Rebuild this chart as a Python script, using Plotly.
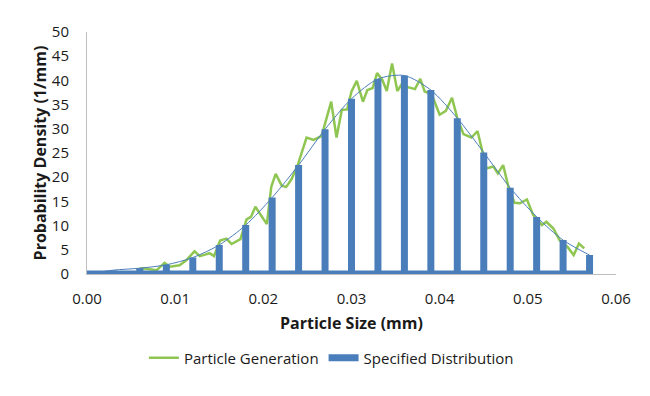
import plotly.graph_objects as go

# Specified distribution (values at 0.003 mm steps)
spec_x = [0.000, 0.003, 0.006, 0.009, 0.012, 0.015, 0.018, 0.021, 0.024, 0.027,
          0.030, 0.033, 0.036, 0.039, 0.042, 0.045, 0.048, 0.051, 0.054, 0.057]
spec_y = [0.0, 0.8, 1.2, 1.9, 3.4, 6.0, 10.1, 15.8, 22.5, 29.9,
          36.2, 40.3, 41.0, 38.0, 32.2, 25.1, 17.8, 11.8, 7.0, 3.9]

# Particle generation (noisy sample)
gen_x = [0.0056, 0.0062, 0.0071, 0.0079, 0.0088, 0.0094, 0.0105, 0.0113, 0.0122, 0.0128,
         0.0134, 0.0139, 0.0144, 0.0151, 0.0158, 0.0164, 0.0174, 0.0181, 0.0186, 0.0191,
         0.0196, 0.0204, 0.0209, 0.0214, 0.0221, 0.0226, 0.0232, 0.0239, 0.0249, 0.0257,
         0.0266, 0.0277, 0.0283, 0.0289, 0.0295, 0.0300, 0.0306, 0.0313, 0.0318, 0.0324,
         0.0329, 0.0335, 0.0340, 0.0346, 0.0352, 0.0358, 0.0364, 0.0372, 0.0378, 0.0383,
         0.0391, 0.0400, 0.0407, 0.0414, 0.0420, 0.0427, 0.0436, 0.0443, 0.0453, 0.0461,
         0.0466, 0.0472, 0.0478, 0.0485, 0.0491, 0.0499, 0.0506, 0.0516, 0.0521, 0.0529,
         0.0536, 0.0545, 0.0552, 0.0558, 0.0564]
gen_y = [0.8, 1.2, 1.0, 0.8, 2.3, 1.5, 1.8, 2.9, 4.7, 3.7,
         4.0, 4.3, 3.7, 6.9, 7.3, 6.2, 7.2, 11.3, 11.8, 13.9,
         12.5, 10.3, 18.0, 20.7, 18.2, 18.0, 19.6, 22.5, 28.2, 27.7,
         28.5, 35.6, 28.2, 33.9, 34.0, 37.7, 39.9, 35.6, 38.0, 38.4,
         41.5, 40.1, 37.8, 43.5, 37.8, 39.5, 38.6, 38.2, 40.3, 37.7,
         37.1, 32.9, 33.7, 36.4, 32.2, 28.9, 28.2, 29.5, 21.8, 22.2,
         20.8, 22.5, 18.0, 14.7, 14.6, 15.4, 12.2, 10.1, 10.8, 9.4,
         7.0, 5.6, 3.9, 6.3, 5.3]

x_ticks = [0.00, 0.01, 0.02, 0.03, 0.04, 0.05, 0.06]
y_ticks = [0, 5, 10, 15, 20, 25, 30, 35, 40, 45, 50]

GREEN = "#8fc651"
BLUE = "#4a7ebb"
FONT = "Open Sans"

# spike path for the specified distribution: baseline with vertical drops
spike_x, spike_y = [], []
for xv, yv in zip(spec_x, spec_y):
    spike_x += [xv, xv, xv]
    spike_y += [0, yv, 0]

fig = go.Figure()
fig.add_trace(go.Scatter(x=gen_x, y=gen_y, mode="lines", name="Particle Generation",
                         line=dict(color=GREEN, width=2.5)))
fig.add_trace(go.Scatter(x=spike_x, y=spike_y, mode="lines", name="Specified Distribution",
                         line=dict(color=BLUE, width=7)))
fig.add_trace(go.Scatter(x=spec_x, y=spec_y, mode="lines", showlegend=False,
                         line=dict(color=BLUE, width=1, shape="spline", smoothing=0.8)))

fig.update_layout(
    width=650, height=396,
    margin=dict(l=79, r=42, t=24, b=130),
    paper_bgcolor="white", plot_bgcolor="white",
    font=dict(family=FONT, size=15, color="#1a1a1a"),
    legend=dict(orientation="h", x=0.462, xanchor="center", y=-0.347, yanchor="middle",
                font=dict(size=15), traceorder="normal", itemwidth=30),
    xaxis=dict(range=[0, 0.06], tickvals=x_ticks, tickformat=".2f",
               showgrid=False, zeroline=False, showline=True, linecolor="#bfbfbf",
               linewidth=1, ticks="", ticklabelstandoff=11, automargin=False,
               tickfont=dict(size=15),
               title=dict(text="<b>Particle Size (mm)</b>", font=dict(size=16), standoff=10)),
    yaxis=dict(range=[0, 50], tickvals=y_ticks, showgrid=False, zeroline=False,
               showline=True, linecolor="#bfbfbf", linewidth=1, ticks="",
               ticklabelstandoff=14, automargin=False, tickfont=dict(size=15),
               title=dict(text="<b>Probability Density (1/mm)</b>", font=dict(size=16), standoff=1)),
)

fig.write_html("out.html")
